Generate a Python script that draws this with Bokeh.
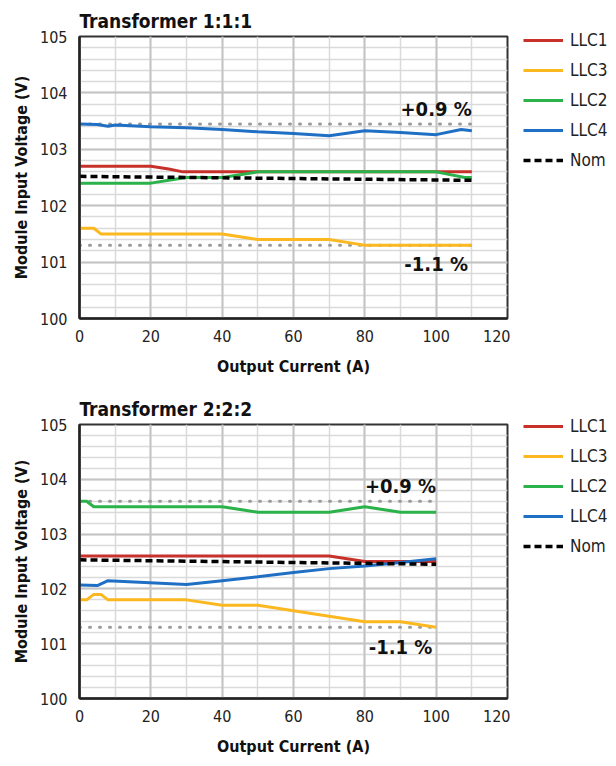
from bokeh.plotting import figure
from bokeh.layouts import column, row
from bokeh.models import (Range1d, SingleIntervalTicker, FixedTicker, Grid, Legend,
                          LegendItem, Label)
from bokeh.embed import file_html
from bokeh.resources import INLINE

FONT = "DejaVu Sans Condensed"

# ---------------- data: Transformer 1:1:1 ----------------
t1_llc1_x = [0, 20, 25, 29, 110]
t1_llc1_y = [102.7, 102.7, 102.65, 102.6, 102.6]
t1_llc3_x = [0, 4, 6, 40, 45, 50, 70, 75, 80, 110]
t1_llc3_y = [101.6, 101.6, 101.5, 101.5, 101.45, 101.4, 101.4, 101.35, 101.3, 101.3]
t1_llc2_x = [0, 20, 25, 30, 40, 45, 50, 100, 108, 110]
t1_llc2_y = [102.4, 102.4, 102.45, 102.5, 102.5, 102.55, 102.6, 102.6, 102.5, 102.5]
t1_llc4_x = [0, 5, 8, 10, 20, 30, 40, 50, 60, 70, 80, 90, 100, 107, 110]
t1_llc4_y = [103.45, 103.44, 103.41, 103.43, 103.40, 103.38, 103.35, 103.31, 103.28,
             103.24, 103.33, 103.30, 103.26, 103.35, 103.33]
t1_nom_x = [0, 110]
t1_nom_y = [102.52, 102.45]
t1_limits = [103.45, 101.3]
t1_limit_x = [0, 110]
t1_notes = [("+0.9 %", 100, 103.72), ("-1.1 %", 100, 100.96)]

# ---------------- data: Transformer 2:2:2 ----------------
t2_llc1_x = [0, 70, 80, 100]
t2_llc1_y = [102.6, 102.6, 102.5, 102.5]
t2_llc3_x = [0, 2, 4, 6, 8, 30, 40, 50, 60, 70, 80, 90, 100]
t2_llc3_y = [101.8, 101.8, 101.9, 101.9, 101.8, 101.8, 101.7, 101.7, 101.6, 101.5,
             101.4, 101.4, 101.3]
t2_llc2_x = [0, 2, 4, 40, 50, 70, 80, 90, 100]
t2_llc2_y = [103.6, 103.6, 103.5, 103.5, 103.4, 103.4, 103.5, 103.4, 103.4]
t2_llc4_x = [0, 5, 8, 30, 40, 50, 60, 70, 80, 90, 100]
t2_llc4_y = [102.07, 102.06, 102.15, 102.08, 102.15, 102.22, 102.30, 102.37, 102.42,
             102.48, 102.55]
t2_nom_x = [0, 100]
t2_nom_y = [102.53, 102.45]
t2_limits = [103.6, 101.3]
t2_limit_x = [0, 100]
t2_notes = [("+0.9 %", 90, 103.88), ("-1.1 %", 90, 100.94)]

x_ticks = [0, 20, 40, 60, 80, 100, 120]
y_ticks = [100, 101, 102, 103, 104, 105]
nom_name = "Nom"

COLORS = {"LLC1": "#c8302a", "LLC3": "#fbb820", "LLC2": "#2cb24a", "LLC4": "#1f6fc4"}
NOM_STYLE = dict(line_color="black", line_width=3.5, line_dash="7 4")


def make(title, series, nom, limits, limit_x, notes, height, border_bottom, width,
         border_right):
    p = figure(width=width, height=height, output_backend="svg", toolbar_location=None,
               x_range=Range1d(0, 120), y_range=Range1d(100, 105),
               min_border_left=79, min_border_right=border_right, min_border_top=36,
               min_border_bottom=border_bottom)
    p.background_fill_color = "white"
    p.border_fill_color = "white"
    p.outline_line_color = "#333333"
    p.outline_line_width = 2

    # grids
    p.xgrid.ticker = SingleIntervalTicker(interval=10)
    p.ygrid.ticker = SingleIntervalTicker(interval=0.2)
    for g in (p.xgrid[0], p.ygrid[0]):
        g.grid_line_color = "#dadada"
        g.grid_line_width = 1.5
    p.add_layout(Grid(dimension=0, ticker=FixedTicker(ticks=x_ticks),
                      grid_line_color="#c4c4c4", grid_line_width=2))
    p.add_layout(Grid(dimension=1, ticker=FixedTicker(ticks=y_ticks),
                      grid_line_color="#c4c4c4", grid_line_width=2))

    # axes
    p.xaxis.ticker = FixedTicker(ticks=x_ticks)
    p.yaxis.ticker = FixedTicker(ticks=y_ticks)
    for ax in (p.xaxis[0], p.yaxis[0]):
        ax.axis_line_color = "#222222"
        ax.axis_line_width = 2.5
        ax.major_tick_line_color = None
        ax.minor_tick_line_color = None
        ax.major_label_text_font = FONT
        ax.major_label_text_font_size = "16px"
        ax.major_label_text_color = "#222222"
        ax.axis_label_text_font = FONT
        ax.axis_label_text_font_size = "16px"
        ax.axis_label_text_font_style = "bold"
        ax.axis_label_text_color = "#111111"
    p.xaxis.axis_label = "Output Current (A)"
    p.yaxis.axis_label = "Module Input Voltage (V)"
    p.xaxis.major_label_standoff = 5
    p.yaxis.major_label_standoff = 6
    p.xaxis.axis_label_standoff = 12
    p.yaxis.axis_label_standoff = 6

    # title
    p.title.text = title
    p.title.text_font = FONT
    p.title.text_font_size = "19px"
    p.title.text_font_style = "bold"
    p.title.text_color = "#111111"
    p.title.align = "left"
    p.title.offset = 0
    p.title.standoff = 10

    # limit lines
    for lv in limits:
        p.line(limit_x, [lv, lv], line_color="#9a9a9a", line_width=3,
               line_dash="1 9", line_cap="round")

    for name, xs, ys in series:
        p.line(xs, ys, line_color=COLORS[name], line_width=3)
    p.line(nom[0], nom[1], **NOM_STYLE)

    for txt, xv, yv in notes:
        p.add_layout(Label(x=xv, y=yv, text=txt, text_align="center",
                           text_baseline="middle", text_font=FONT,
                           text_font_size="20px", text_font_style="bold",
                           text_color="#111111"))
    return p


CAN_UNALIGN = "frame_align" in figure().properties()


def make_legend(height, top, series, nom, width):
    # side panel holding only the legend; its series sit outside its visible range
    lf = figure(width=width, height=height, output_backend="svg", toolbar_location=None,
                x_axis_type=None, y_axis_type=None, title=None,
                min_border_left=0, min_border_right=0, min_border_bottom=0,
                min_border_top=top,
                x_range=Range1d(0, 1), y_range=Range1d(0, 1))
    if CAN_UNALIGN:
        lf.frame_align = False
    lf.outline_line_color = None
    lf.background_fill_color = "white"
    lf.border_fill_color = "white"
    items = []
    for name, xs, ys in series:
        r = lf.line(xs, ys, line_color=COLORS[name], line_width=3)
        items.append(LegendItem(label=name, renderers=[r]))
    rn = lf.line(nom[0], nom[1], **NOM_STYLE)
    items.append(LegendItem(label=nom_name, renderers=[rn]))
    m = 9 if CAN_UNALIGN else 0
    pad = 4 if CAN_UNALIGN else 0
    legend = Legend(items=items, location="top_left", padding=pad, margin=m,
                    glyph_width=40, glyph_height=20, label_height=20,
                    spacing=10, label_standoff=7,
                    label_text_font=FONT, label_text_font_size="17px",
                    label_text_color="#222222",
                    border_line_alpha=0, background_fill_alpha=0)
    lf.add_layout(legend, "center")
    return lf


H1, H2 = 388, 370
PW = 510 if CAN_UNALIGN else 523
LW = 100 if CAN_UNALIGN else 90
BR = PW - 507

s1 = [("LLC1", t1_llc1_x, t1_llc1_y), ("LLC3", t1_llc3_x, t1_llc3_y),
      ("LLC2", t1_llc2_x, t1_llc2_y), ("LLC4", t1_llc4_x, t1_llc4_y)]
s2 = [("LLC1", t2_llc1_x, t2_llc1_y), ("LLC3", t2_llc3_x, t2_llc3_y),
      ("LLC2", t2_llc2_x, t2_llc2_y), ("LLC4", t2_llc4_x, t2_llc4_y)]
p1 = make("Transformer 1:1:1", s1, (t1_nom_x, t1_nom_y), t1_limits, t1_limit_x,
          t1_notes, H1, 70, PW, BR)
p2 = make("Transformer 2:2:2", s2, (t2_nom_x, t2_nom_y), t2_limits, t2_limit_x,
          t2_notes, H2, 52, PW, BR)

l1 = make_legend(H1, 17, s1, (t1_nom_x, t1_nom_y), LW)
l2 = make_legend(H2, 15, s2, (t2_nom_x, t2_nom_y), LW)

layout = column(row(p1, l1, spacing=0), row(p2, l2, spacing=0), spacing=0)
open("out.html", "w").write(file_html(layout, INLINE))
